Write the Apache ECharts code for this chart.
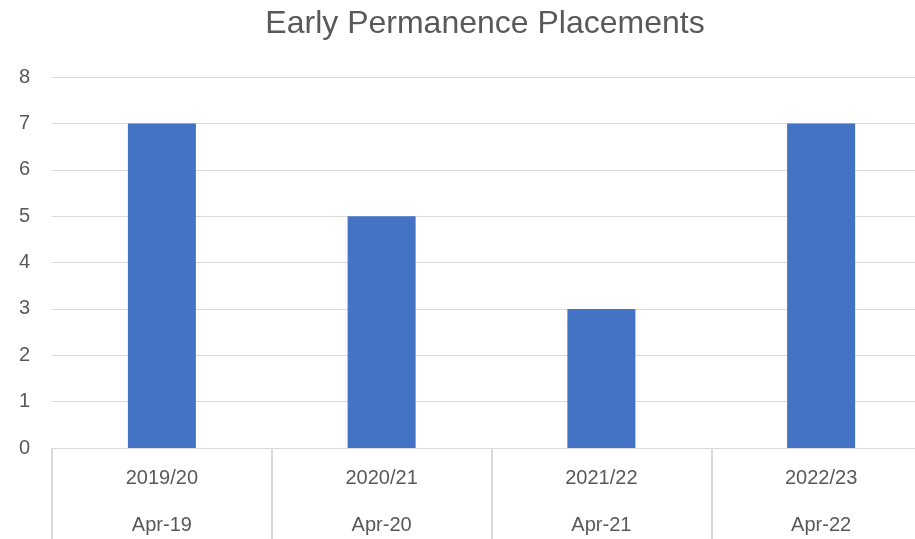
<!DOCTYPE html>
<html>
<head>
<meta charset="utf-8">
<script src="https://cdn.jsdelivr.net/npm/echarts@6/dist/echarts.min.js"></script>
<style>
  html, body { margin: 0; padding: 0; background: #fff; }
  #chart { width: 915px; height: 539px; }
</style>
</head>
<body>
<div id="chart"></div>
<script>
// values
var periods = ['2019/20', '2020/21', '2021/22', '2022/23']
var months = ['Apr-19', 'Apr-20', 'Apr-21', 'Apr-22']
var placements = [7, 5, 3, 7]

var grey = '#595959'
var lineGrey = '#d9d9d9'
var font = 'Liberation Sans'

var chart = echarts.init(document.getElementById('chart'))

// two-row category labels: period on top, month below
var catLabels = periods.map(function (p, i) {
  return p + '\n' + months[i]
})

chart.setOption({
  animation: false,
  title: {
    text: 'Early Permanence Placements',
    left: 480,
    top: 3,
    textAlign: 'center',
    textStyle: {
      color: grey,
      fontSize: 32,
      fontWeight: 'normal',
      fontFamily: font
    }
  },
  grid: {
    left: 52,
    top: 77,
    width: 879,
    bottom: 91,
    outerBoundsMode: 'none',
    containLabel: false
  },
  xAxis: {
    type: 'category',
    data: catLabels,
    boundaryGap: true,
    axisLine: { lineStyle: { color: lineGrey, width: 1 } },
    axisTick: {
      show: true,
      alignWithLabel: false,
      length: 91,
      lineStyle: { color: lineGrey, width: 2 }
    },
    axisLabel: {
      color: grey,
      fontSize: 20,
      fontFamily: font,
      lineHeight: 47,
      margin: 7,
      interval: 0
    }
  },
  yAxis: {
    type: 'value',
    min: 0,
    max: 8,
    interval: 1,
    axisLine: { show: false },
    axisTick: { show: false },
    splitLine: { lineStyle: { color: lineGrey, width: 1 } },
    axisLabel: {
      color: grey,
      fontSize: 20,
      fontFamily: font,
      margin: 22
    }
  },
  series: [
    {
      name: 'Placements',
      type: 'bar',
      data: placements,
      barWidth: 68,
      itemStyle: { color: '#4472c4' }
    }
  ]
})
</script>
</body>
</html>
